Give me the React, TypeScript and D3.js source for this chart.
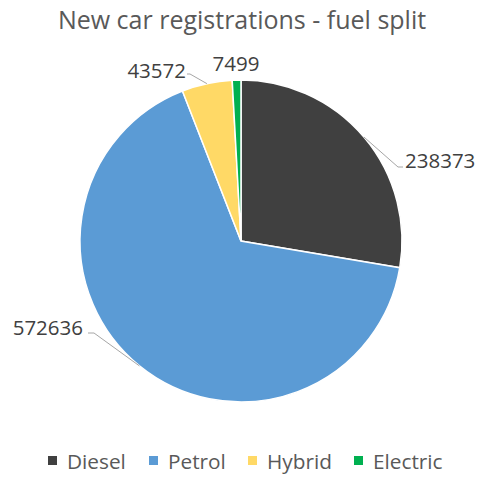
import React from "react";
import * as d3 from "d3";

const categories = ["Diesel", "Petrol", "Hybrid", "Electric"];
const values = [238373, 572636, 43572, 7499];
const colors = ["#404040", "#5B9BD5", "#FFD966", "#00B050"];
const title = "New car registrations - fuel split";

const W = 477, H = 477;
const cx = 241, cy = 241, R = 161;
const FONT = "'Open Sans', sans-serif";

const labelLayout = [
  { tx: 405, ty: 160, anchor: "start", line: true, elbow: [398, 167], end: [403, 167] },
  { tx: 83, ty: 327, anchor: "end", line: true, elbow: [94, 333], end: [88, 333] },
  { tx: 186, ty: 70, anchor: "end", line: true, elbow: [190, 74], end: [187, 74] },
  { tx: 236, ty: 63, anchor: "middle", line: false, elbow: [0, 0], end: [0, 0] },
];

export default function App() {
  const pie = d3.pie<number>().sort(null).value((d) => d);
  const arcs = pie(values);
  const arc = d3.arc<d3.PieArcDatum<number>>().innerRadius(0).outerRadius(R);
  const edge = d3.arc<d3.PieArcDatum<number>>().innerRadius(R).outerRadius(R);

  const legendX = [48, 149, 248, 354];

  return (
    <svg width={W} height={H} style={{ position: "absolute", left: 0, top: 0, background: "#fff" }}>
      <text x={242} y={29} textAnchor="middle" fontFamily={FONT} fontSize={25} fill="#595959">
        {title}
      </text>
      <g transform={`translate(${cx},${cy})`}>
        {arcs.map((a, i) => (
          <path key={i} d={arc(a) || ""} fill={colors[i]} stroke="#fff" strokeWidth={1.5} />
        ))}
      </g>
      {arcs.map((a, i) => {
        const L = labelLayout[i];
        const [ex, ey] = edge.centroid(a);
        const px = cx + ex, py = cy + ey;
        return (
          <g key={i}>
            {L.line && (
              <polyline
                points={`${px},${py} ${L.elbow[0]},${L.elbow[1]} ${L.end[0]},${L.end[1]}`}
                fill="none"
                stroke="#A6A6A6"
                strokeWidth={1}
              />
            )}
            <text x={L.tx} y={L.ty} textAnchor={L.anchor as any} dominantBaseline="central" fontFamily={FONT} fontSize={20.5} fill="#404040">
              {values[i]}
            </text>
          </g>
        );
      })}
      {categories.map((c, i) => (
        <g key={c}>
          <rect x={legendX[i]} y={456} width={9} height={9} fill={colors[i]} />
          <text x={legendX[i] + 19} y={461} dominantBaseline="central" fontFamily={FONT} fontSize={20.8} fill="#595959">
            {c}
          </text>
        </g>
      ))}
    </svg>
  );
}
